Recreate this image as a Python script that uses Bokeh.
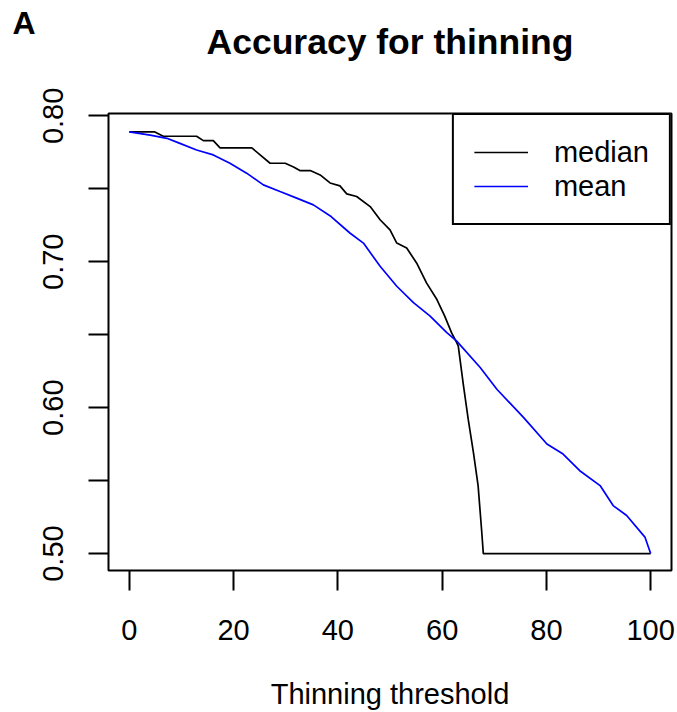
from bokeh.plotting import figure
from bokeh.models import FixedTicker, Range1d, Title, Legend, LegendItem
from bokeh.embed import file_html
from bokeh.resources import INLINE

# ---- data ----
median_x = [0, 4.9, 6.5, 12.9, 14.2, 16.1, 17.4, 23.5, 27.0, 29.9, 31.5, 32.7, 34.7, 36.6,
            38.5, 40.4, 41.7, 43.6, 46.2, 48.1, 50.0, 51.3, 53.2, 55.1, 57.0, 59.0, 60.5,
            61.8, 62.8, 63.1, 64.1, 65.0, 66.0, 66.9, 67.6, 67.9, 100]
median_y = [0.789, 0.789, 0.786, 0.786, 0.783, 0.783, 0.778, 0.778, 0.7675, 0.7675, 0.765,
            0.7625, 0.7625, 0.7595, 0.754, 0.752, 0.7465, 0.7447, 0.7378, 0.7288, 0.7219,
            0.7128, 0.7094, 0.6992, 0.6855, 0.6741, 0.6627, 0.6514, 0.6445, 0.6422, 0.6149,
            0.5921, 0.5694, 0.5466, 0.5148, 0.50, 0.50]
mean_x = [0, 4.0, 7.2, 9.7, 12.9, 16.1, 19.3, 22.5, 25.7, 28.9, 32.1, 35.3, 38.7, 42.3, 44.9,
          48.1, 51.3, 54.5, 57.7, 60.9, 62.8, 67.3, 70.5, 75.6, 80.1, 83.2, 86.4, 90.3, 92.8,
          95.4, 98.9, 100]
mean_y = [0.789, 0.7868, 0.7846, 0.7811, 0.7766, 0.7732, 0.7675, 0.7607, 0.7527, 0.7481,
          0.7436, 0.739, 0.731, 0.7197, 0.7128, 0.6969, 0.6832, 0.672, 0.6627, 0.6514, 0.6456,
          0.6275, 0.6126, 0.5933, 0.5751, 0.5682, 0.5568, 0.5466, 0.5329, 0.5261, 0.5113, 0.50]
x_ticks = [0, 20, 40, 60, 80, 100]
y_ticks = [0.5, 0.55, 0.6, 0.65, 0.7, 0.75, 0.8]
y_tick_labels = {0.5: "0.50", 0.55: "", 0.6: "0.60", 0.65: "", 0.7: "0.70", 0.75: "", 0.8: "0.80"}
series_names = ["median", "mean"]
title_text = "Accuracy for thinning"
panel_letter = "A"
x_label = "Thinning threshold"

FONT = "Liberation Sans"

p = figure(width=677, height=712, output_backend="svg", toolbar_location=None,
           x_range=Range1d(-4, 104), y_range=Range1d(0.4884, 0.8016),
           min_border_left=108, min_border_right=6, min_border_top=113, min_border_bottom=140)

p.background_fill_color = "white"
p.border_fill_color = "white"
p.outline_line_color = "black"
p.outline_line_width = 2
p.grid.visible = False

# Title rows, from the frame outward: spacer, main title, panel letter (p.title, outermost)
p.add_layout(Title(text=" ", text_font=FONT, text_font_size="35px", standoff=30), "above")
p.add_layout(Title(text=title_text, align="center", vertical_align="top", text_font=FONT,
                   text_font_size="35.5px", text_font_style="bold", text_color="black",
                   standoff=-42), "above")

p.title.text = panel_letter
p.title.align = "left"
p.title.offset = -96
p.title.vertical_align = "bottom"
p.title.text_font = FONT
p.title.text_font_size = "32px"
p.title.text_font_style = "bold"
p.title.text_color = "black"
p.title.standoff = 3

# axes
for ax in (p.xaxis[0], p.yaxis[0]):
    ax.axis_line_color = None
    ax.major_tick_line_color = "black"
    ax.major_tick_line_width = 2
    ax.major_tick_out = 20
    ax.major_tick_in = 0
    ax.minor_tick_line_color = None
    ax.major_label_text_font = FONT
    ax.major_label_text_font_size = "29px"
    ax.major_label_text_color = "black"
    ax.axis_label_text_font = FONT
    ax.axis_label_text_font_size = "29px"
    ax.axis_label_text_font_style = "normal"
    ax.axis_label_text_color = "black"

p.xaxis.ticker = FixedTicker(ticks=x_ticks)
p.xaxis.major_label_standoff = 29
p.xaxis.axis_label = x_label
p.xaxis.axis_label_standoff = 35

p.yaxis.ticker = FixedTicker(ticks=y_ticks)
p.yaxis.major_label_overrides = y_tick_labels
p.yaxis.major_label_orientation = "vertical"
p.yaxis.major_label_standoff = 25

r_med = p.line(median_x, median_y, line_color="black", line_width=1.7)
r_mean = p.line(mean_x, mean_y, line_color="blue", line_width=1.7)

legend = Legend(items=[LegendItem(label=series_names[0], renderers=[r_med]),
                       LegendItem(label=series_names[1], renderers=[r_mean])],
                location="top_right", margin=0, padding=20, spacing=0,
                glyph_width=54, glyph_height=34, label_height=34, label_standoff=26,
                label_text_font=FONT, label_text_font_size="29px", label_text_color="black",
                border_line_color="black", border_line_width=2, border_line_alpha=1.0,
                background_fill_color="white", background_fill_alpha=1.0)
p.add_layout(legend, "center")

open("out.html", "w").write(file_html(p, INLINE))
